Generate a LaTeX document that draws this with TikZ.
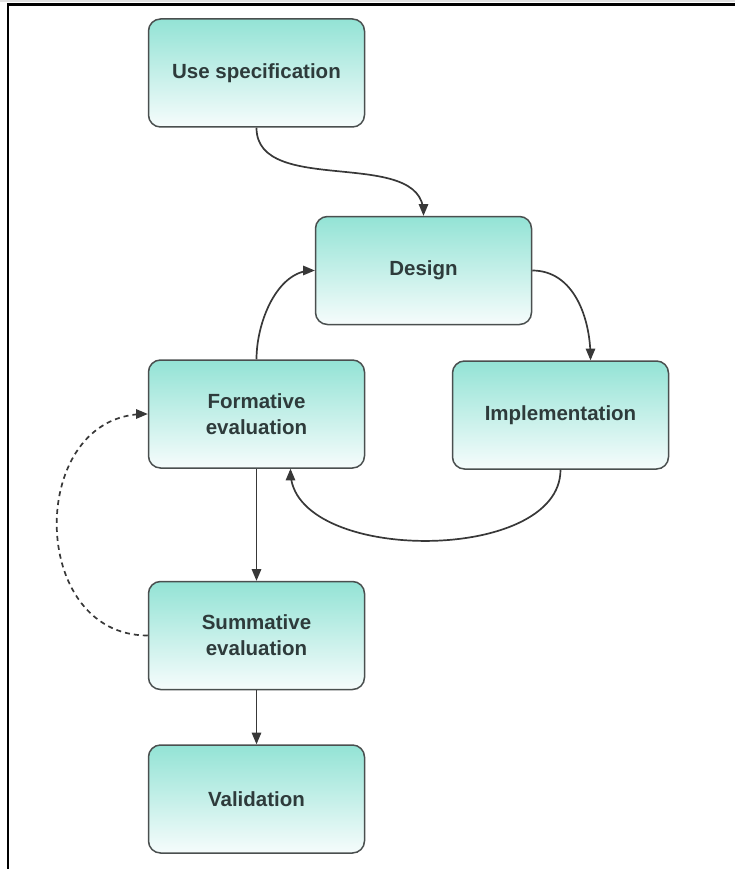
\documentclass[tikz,border=0pt]{standalone}
\usepackage{fontspec}
\setmainfont{Liberation Sans}
\usetikzlibrary{arrows}

\definecolor{boxtop}{HTML}{93E3D5}
\definecolor{boxbot}{HTML}{F6FCFC}
\definecolor{boxline}{HTML}{4A4F4F}
\definecolor{boxtext}{HTML}{2E3B3B}

\begin{document}
\begin{tikzpicture}[x=1pt,y=-1pt,>=triangle 45]
                        \useasboundingbox (0,0) rectangle (735,869);
                        % frame of the page
                        \draw[black!12,line width=2pt] (0,1) -- (735,1);
                        \draw[line width=2.2pt] (8,869) -- (8,4.5) -- (735,4.5);
                        \tikzstyle{every node} = [rectangle,rounded corners=12pt,draw=boxline,line width=1.5pt,
                            top color=boxtop,bottom color=boxbot,text=boxtext,align=center,
                            minimum width=216pt,minimum height=108pt,font=\fontsize{20.5}{26}\selectfont\bfseries];
                        \tikzstyle{link} = [->,line width=1.7pt,draw=black!78];
                        \node (usespec) at (256.5, 73) {Use specification};
                        \node (design) at (423.5, 270.5) {Design};
                        \node (impl) at (560.5, 415) {Implementation};
                        \node (formative) at (256.5, 414) {Formative\\evaluation};
                        \node (summative) at (256.5, 635.5) {Summative\\evaluation};
                        \node (validation) at (256.5, 799) {Validation};
                        % connectors
                        \draw[link] (usespec.south) to[out=-90,in=90,looseness=0.95] (design.north);
                        \draw[link] (design.east) to[out=0,in=90,looseness=1] ([xshift=30pt]impl.north);
                        \draw[link] (impl.south) to[out=-90,in=-90,looseness=0.9] ([xshift=34pt]formative.south);
                        \draw[link] (formative.north) to[out=90,in=180,looseness=0.9] (design.west);
                        \draw[link] (formative.south) -- (summative.north);
                        \draw[link] (summative.south) -- (validation.north);
                        \draw[link,dashed,dash pattern=on 5pt off 4pt] (summative.west) to[out=180,in=180,looseness=1.4] (formative.west);
                    \end{tikzpicture}
\end{document}
